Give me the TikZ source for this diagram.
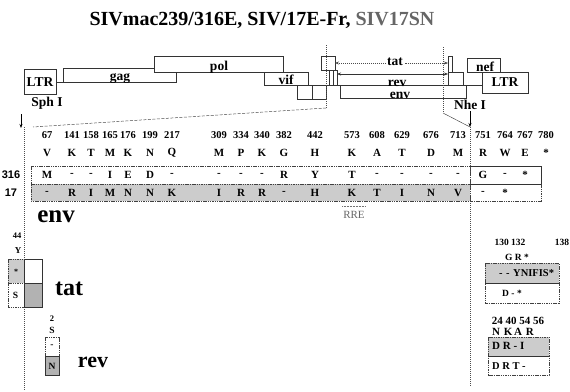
\documentclass[tikz,border=0pt]{standalone}
\usepackage{fontspec}
\setmainfont{Liberation Serif}
\setsansfont{Liberation Sans}
\usetikzlibrary{arrows.meta}
\newcommand\myfs[1]{\fontsize{#1}{#1}\selectfont}
\tikzset{
 box/.style={draw=black!80, line width=0.5pt, inner sep=0pt, outer sep=0pt},
 boxl/.style={draw=black!80, line width=0.5pt},
 guide/.style={draw=black!70, line width=0.5pt, dash pattern=on 1pt off 1pt},
 dguide/.style={draw=black!70, line width=0.5pt, dash pattern=on 3pt off 1.5pt},
 rowl/.style={draw=black!75, line width=0.5pt, dash pattern=on 1.5pt off 0.8pt},
 shade/.style={fill=black!20},
 dshade/.style={fill=black!30},
 maplbl/.style={font=\bfseries\myfs{13.5}, inner sep=0pt},
 num/.style={font=\bfseries\myfs{10.5}, inner sep=0pt},
 aa/.style={font=\bfseries\myfs{11}, inner sep=0pt},
 sm/.style={font=\bfseries\myfs{9.5}, inner sep=0pt},
 big/.style={font=\bfseries\myfs{24}, inner sep=0pt},
 tip/.style={-{Stealth[length=4pt,width=3pt]}},
 tips/.style={{Stealth[length=4pt,width=3pt]}-{Stealth[length=4pt,width=3pt]}},
}
\begin{document}
\begin{tikzpicture}[x=1pt,y=-1pt]
\useasboundingbox (0,0) rectangle (570,391);
% title
\node[font=\bfseries\myfs{20}, inner sep=0pt] (title) at (262,20) {SIVmac239/316E, SIV/17E-Fr, \textcolor{black!60}{SIV17SN}};
% ---------------- genome map
\node[box, minimum width=32pt, minimum height=25pt, font=\bfseries\myfs{13.5}] (ltrL) at (40,82) {LTR};
\node[box, minimum width=46pt, minimum height=21pt, font=\bfseries\myfs{13.5}] (ltrR) at (505,82.5) {LTR};
\node[maplbl] (sph) at (47,103) {Sph I};
\coordinate (sphT) at (21,114); \coordinate (sphB) at (21,128);
\draw[tip, line width=0.7pt] (sphT) -- (sphB);
% gag
\coordinate (gagL) at (63,82);
\draw[boxl] (ltrL.east) -- (gagL) -- (63,68) -- (154,68);
\draw[boxl] (gagL) -- (176,82) -- (176,72);
\node[maplbl, anchor=base] (gagt) at (120,80.5) {gag};
% pol
\node[box, minimum width=129pt, minimum height=16pt] (pol) at (218.5,64) {};
\node[maplbl, anchor=base] (polt) at (219,70.5) {pol};
% vif
\node[box, minimum width=44pt, minimum height=13pt] (vif) at (286,78.5) {};
\node[maplbl, anchor=base] (vift) at (286,84) {vif};
\draw[boxl] (vif.south east) -- (vif.south east -| ltrR.west);
% vpx / vpr
\draw[boxl] (297,85) rectangle (326,99);
\draw[boxl] (312,85) -- (312,99);
% tat / rev exons
\node[box, minimum width=14pt, minimum height=14pt] (tat1) at (328,63) {};
\draw[boxl] (329,70) rectangle (337,85);
\draw[boxl] (333,70) -- (333,85);
\node[box, minimum width=4pt, minimum height=16pt] (tat2) at (450,64) {};
\node[box, minimum width=15pt, minimum height=13pt] (rev2) at (455.5,78.5) {};
\draw[guide, tips] (tat1.east) -- (tat1.east -| tat2.west);
\node[maplbl, fill=white, inner sep=1.5pt] (tatt) at (395,62) {tat};
\coordinate (revS) at (337,74);
\draw[boxl, tips] (revS) -- (revS -| rev2.west);
\node[maplbl, anchor=base] (revt) at (397,86) {rev};
% env
\draw[boxl] (340,85) -- (340,98) -- (466,98) -- (466,85);
\node[maplbl, anchor=base] (envt) at (400,98.5) {env};
% nef
\node[box, minimum width=33pt, minimum height=14pt] (nef) at (483.5,65) {};
\node[maplbl, anchor=base] (neft) at (485,71) {nef};
% guides
\coordinate (g1t) at (326,45); \coordinate (g1b) at (326,108); \coordinate (z1) at (33,127);
\draw[guide] (g1t) -- (g1b);
\draw[dguide] (g1b) -- (z1);
\coordinate (g2t) at (443,47); \coordinate (g2b) at (443,113); \coordinate (z2) at (470,127);
\draw[guide] (g2t) -- (g2b);
\draw[boxl, line width=0.4pt] (g2b) -- (z2);
\node[maplbl] (nhe) at (470,105) {Nhe I};
\coordinate (nheT) at (470,111);
\draw[tip, line width=0.6pt] (nheT) -- (z2);
% ---------------- table
\coordinate (vl1) at (24,127); \coordinate (vl2) at (24,391);
\draw[guide] (vl1) -- (vl2);
\coordinate (vr2) at (470,387);
\draw[guide] (z2) -- (vr2);
\fill[shade] (31,184) rectangle (470,201);
\draw[rowl] (31,166) rectangle (470,201);
\draw[rowl] (31,184) -- (470,184);
\draw[boxl] (470,166) -- (541,166) -- (541,184) -- (470,184);
\draw[rowl] (541,184) -- (541,201) -- (470,201);
\node[font=\sffamily\bfseries\myfs{11}, inner sep=0pt] (l316) at (11,175) {316};
\node[font=\sffamily\bfseries\myfs{11}, inner sep=0pt] (l17) at (11,193) {17};
\foreach \x/\n/\a/\r/\s [count=\i] in {47/67/V/M/-, 72/141/K/-/R, 91/158/T/-/I, 110/165/M/I/M, 128/176/K/E/N, 150/199/N/D/N, 172/217/Q/-/K, 219/309/M/-/I, 241/334/P/-/R, 262/340/K/-/R, 284/382/G/R/-, 315/442/H/Y/H, 352/573/K/T/K, 377/608/A/-/T, 402/629/T/-/I, 431/676/D/-/N, 458/713/M/-/V}{
 \node[num] (n\i) at (\x,135) {\n};
 \node[aa] (a\i) at (\x,153) {\a};
 \node[aa] (r\i) at (\x,175) {\r};
 \node[aa] (s\i) at (\x,193) {\s};
}
\foreach \x/\n/\a [count=\i] in {483/751/R, 505/764/W, 525/767/E, 546/780/*}{
 \node[num] (m\i) at (\x,135) {\n};
 \node[aa] (b\i) at (\x,153) {\a};
}
\node[aa] (rg) at (483,175) {G};
\node[aa] (rd) at (505,175) {-};
\node[aa] (rs) at (525,175) {*};
\node[aa] (sd) at (483,193) {-};
\node[aa] (ss) at (505,193) {*};
\coordinate (rreL) at (342,206); \coordinate (rreR) at (366,206);
\draw[black!55, line width=0.8pt, dash pattern=on 1pt off 0.5pt] (rreL) -- (rreR);
\node[font=\myfs{11}, text=black!60, inner sep=0pt] (rre) at (354,215) {RRE};
\node[big, font=\bfseries\myfs{25}] (envbig) at (56,217) {env};
% ---------------- tat / rev left
\node[sm, font=\bfseries\myfs{8.5}] (p44) at (17,236) {44};
\node[sm, font=\bfseries\myfs{9}] (pY) at (18,251) {Y};
\fill[shade] (8,259) rectangle (24,283);
\fill[dshade] (24,283) rectangle (42,307);
\draw[rowl] (8,259) rectangle (24,307);
\draw[rowl] (8,283) -- (24,283);
\draw[boxl, line width=0.7pt] (24,259) rectangle (42,307);
\draw[boxl, line width=0.7pt] (24,283) -- (42,283);
\node[sm, font=\bfseries\myfs{8}] (tS1) at (16,272) {*};
\node[sm] (tS2) at (15.5,295) {S};
\node[big] (tatbig) at (69,289) {tat};
\node[sm, font=\bfseries\myfs{8.5}] (p2) at (52,319) {2};
\node[sm] (pS) at (52,330) {S};
\fill[dshade] (45,356) rectangle (59,375);
\draw[rowl] (45,337) rectangle (59,375);
\draw[boxl, line width=0.7pt] (45,356) -- (59,356) -- (59,375) -- (45,375) -- cycle;
\node[sm] (rv1) at (52,346) {-};
\node[sm] (rv2) at (52,366) {N};
\node[big, font=\bfseries\myfs{22}] (revbig) at (93,362) {rev};
% ---------------- tat / rev right
\node[sm] (p130) at (510,242) {130 132};
\node[sm] (p138) at (562,242) {138};
\node[sm] (pGR) at (517,257) {G R *};
\fill[shade] (485,263) rectangle (559,283);
\draw[rowl] (485,263) rectangle (559,303);
\draw[boxl] (485,283) -- (559,283);
\node[sm, font=\bfseries\myfs{10.5}, anchor=west] (tr1) at (499,273) {-\,\,-\,\,YNIFIS*};
\node[sm] (tr2) at (512,293) {D - *};
\node[sm, font=\bfseries\myfs{11}] (p24) at (518,321) {24 40 54 56};
\node[sm, font=\bfseries\myfs{11}] (pN) at (513,332) {N\,\,K\,A\,\,R};
\fill[shade] (488,337) rectangle (549,356);
\draw[rowl] (488,337) rectangle (549,375);
\draw[boxl] (488,356) -- (549,356);
\node[sm, font=\bfseries\myfs{11}, anchor=west] (rr1) at (492,346) {D R - I};
\node[sm, font=\bfseries\myfs{10.5}, anchor=west] (rr2) at (492,366) {D R T -};
\end{tikzpicture}
\end{document}
